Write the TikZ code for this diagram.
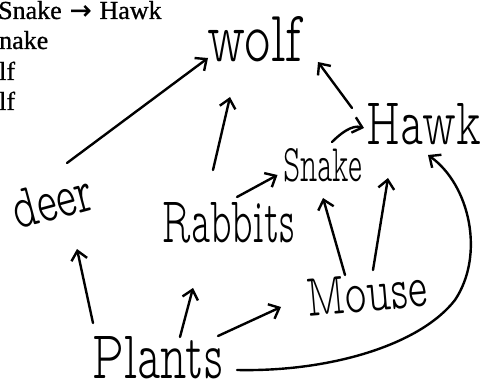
\documentclass[tikz,border=0pt]{standalone}
\usepackage{fontspec}
\usepackage{graphicx}
\setmainfont{Liberation Serif}
\newfontfamily\printfont{Liberation Serif}[FakeBold=0.8]
\newfontfamily\hand{lmmonoproplt10-regular.otf}
\newfontfamily\arrowfont{DejaVu Sans}[FakeBold=0.8]
\usetikzlibrary{arrows.meta,calc}
\newcommand\hwbox[3]{\resizebox{#1pt}{#2pt}{#3}}
\tikzset{
  hw/.style={inner sep=0pt, font=\hand},
  arr/.style={line width=2.4pt, line cap=round,
    -{Straight Barb[length=9pt,width=16pt,line width=2.4pt]}},
  printed/.style={anchor=base west, inner sep=0pt, font=\printfont\fontsize{26}{26}\selectfont}
}
\begin{document}
\begin{tikzpicture}[x=1pt,y=1pt]
\useasboundingbox (0,0) rectangle (482,-387);
\clip (0,0) rectangle (482,-387);
% printed text (cut at the left edge)
\node[printed] (p1) at (-2,-19) {Snake\hspace{8pt}{\arrowfont\symbol{"2192}}\hspace{8pt}Hawk};
\node[printed] (p2) at (-1,-49) {nake};
\node[printed] (p3) at (-1,-80) {lf};
\node[printed] (p4) at (-1,-110) {lf};
% handwritten nodes
\node[hw] (wolf) at (255,-39.5) {\hwbox{94}{45}{wolf}};
\node[hw] (hawk) at (424,-124.5) {\hwbox{114}{41}{Hawk}};
\node[hw] (snake) at (322.5,-165.5) {\hwbox{79}{33}{Snake}};
\node[hw, rotate=15] (deer) at (52,-201) {\hwbox{82}{38}{deer}};
\node[hw] (rabbits) at (229,-223) {\hwbox{132}{40}{Rabbits}};
\node[hw, rotate=5] (mouse) at (367,-293) {\hwbox{120}{37}{Mouse}};
\node[hw] (plants) at (158,-358) {\hwbox{130}{42}{Plants}};
% connectors
\draw[arr] ($(deer)+(15,38)$) -- ($(wolf)+(-47,-18.5)$);
\draw[arr] ($(rabbits)+(-16,53)$) -- ($(wolf)+(-25,-57.5)$);
\draw[arr] ($(hawk)+(-72,16.5)$) -- ($(wolf)+(63,-22.5)$);
\draw[arr] ($(snake)+(9.5,23.5)$) .. controls ($(snake)+(18,32)$) and ($(hawk)+(-72,0)$) .. ($(hawk)+(-60,-3.5)$);
\draw[arr] ($(rabbits)+(8,26)$) -- ($(snake)+(-45,-9.5)$);
\draw[arr] ($(mouse)+(-22,18)$) -- ($(snake)+(0.5,-32.5)$);
\draw[arr] ($(mouse)+(6,23)$) -- ($(hawk)+(-36,-53.5)$);
\draw[arr] ($(plants)+(-65,35)$) -- ($(deer)+(25,-48)$);
\draw[arr] ($(plants)+(22,21)$) -- ($(rabbits)+(-36,-65)$);
\draw[arr] ($(plants)+(60,22)$) -- ($(mouse)+(-86,-14)$);
\draw[arr] ($(plants)+(79,-12)$) .. controls (330,-372) and (420,-345) .. (455,-300)
  .. controls (485,-255) and (470,-185) .. ($(hawk)+(4,-30.5)$);
\end{tikzpicture}
\end{document}
